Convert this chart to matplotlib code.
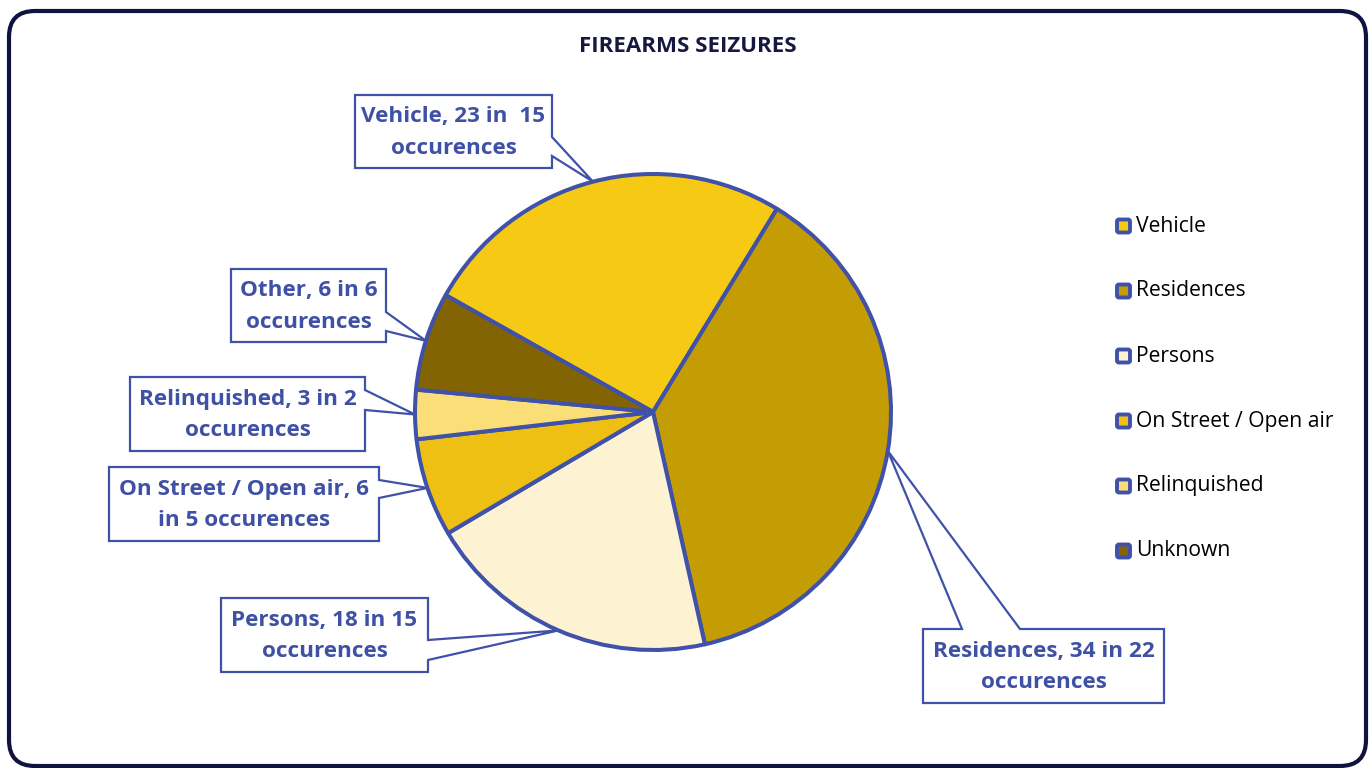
import matplotlib
matplotlib.use("Agg")
import matplotlib.pyplot as plt
from matplotlib.patches import Polygon, FancyBboxPatch
import numpy as np

# ---- data ----
categories = ["Vehicle", "Residences", "Persons", "On Street / Open air", "Relinquished", "Other"]
legend_labels = ["Vehicle", "Residences", "Persons", "On Street / Open air", "Relinquished", "Unknown"]
seized = [23, 34, 18, 6, 3, 6]
occurrences = [15, 22, 15, 5, 2, 6]
label_texts = ["Vehicle, 23 in  15\noccurences",
               "Residences, 34 in 22\noccurences",
               "Persons, 18 in 15\noccurences",
               "On Street / Open air, 6\nin 5 occurences",
               "Relinquished, 3 in 2\noccurences",
               "Other, 6 in 6\noccurences"]
colors = ["#F6C915", "#C49C04", "#FDF3D2", "#EEC014", "#FADF78", "#836404"]
title = "FIREARMS SEIZURES"

EDGE = "#3F51A8"
TXT = "#3F51A5"
W, H = 1370, 768

fig = plt.figure(figsize=(13.7, 7.68), dpi=100)
ax = fig.add_axes([0, 0, 1, 1])

def Y(py):
    return H - py

cx, cy, r = 653, 412, 238
wedges, _ = ax.pie(seized, colors=colors, startangle=150.6, counterclock=False,
                   center=(cx, Y(cy)), radius=r,
                   wedgeprops=dict(edgecolor=EDGE, linewidth=2.9, joinstyle="round"))
ax.set_xlim(0, W)
ax.set_ylim(0, H)
ax.set_aspect("equal")
ax.axis("off")

# frame
frame = FancyBboxPatch((9, Y(766)), 1357, 755, boxstyle="round,pad=0,rounding_size=26",
                       fill=False, edgecolor="#10123F", linewidth=3.0, zorder=0)
ax.add_patch(frame)

ax.text(688, Y(46), title, ha="center", va="center", fontsize=16, fontweight="bold",
        color="#16183F", family="Open Sans")

# callout boxes (pixel layout): box L,T,R,B ; side ; base span
boxes = [(355, 95, 552, 168, "right", (137, 156)),
         (923, 629, 1164, 703, "top", (962, 1020)),
         (221, 598, 428, 672, "right", (640, 660)),
         (109, 467, 379, 541, "right", (480, 498)),
         (130, 377, 365, 451, "right", (390, 410)),
         (231, 269, 386, 342, "right", (312, 331))]

for w, txt, (L, T, R, B, side, (b1, b2)) in zip(wedges, label_texts, boxes):
    mid = np.deg2rad((w.theta1 + w.theta2) / 2)
    tx = cx + r * np.cos(mid)
    ty = Y(cy) + r * np.sin(mid)
    if side == "right":
        verts = [(L, Y(T)), (R, Y(T)), (R, Y(b1)), (tx, ty), (R, Y(b2)), (R, Y(B)), (L, Y(B))]
    else:
        verts = [(L, Y(T)), (b1, Y(T)), (tx, ty), (b2, Y(T)), (R, Y(T)), (R, Y(B)), (L, Y(B))]
    ax.add_patch(Polygon(verts, closed=True, facecolor="white", edgecolor=EDGE,
                         linewidth=1.6, zorder=5))
    ax.text((L + R) / 2, Y((T + B) / 2) - 1, txt, ha="center", va="center", fontsize=16.2,
            fontweight="bold", color=TXT, family="Open Sans", linespacing=1.68, zorder=6)

# legend
for i, (lab, c) in enumerate(zip(legend_labels, colors)):
    py = 226 + 65 * i
    ax.add_patch(FancyBboxPatch((1117, Y(py) - 6.5), 13, 13,
                                boxstyle="round,pad=0,rounding_size=2",
                                facecolor=c, edgecolor=EDGE, linewidth=2.8, zorder=5))
    ax.text(1136, Y(py), lab, ha="left", va="center", fontsize=15.2, color="black",
            family="Open Sans", zorder=5)

fig.savefig("out.png", dpi=100)
